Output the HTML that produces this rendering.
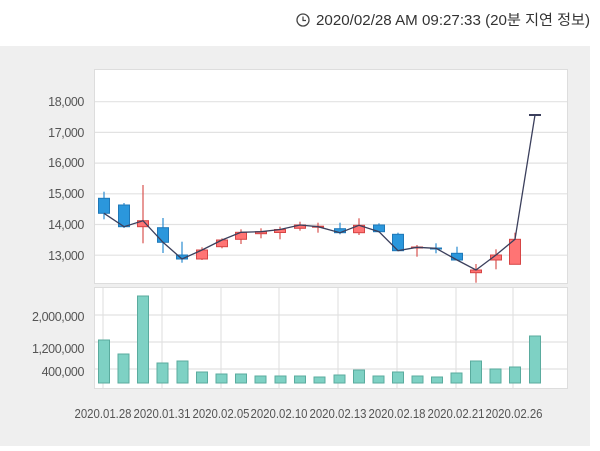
<!DOCTYPE html>
<html><head><meta charset="utf-8"><style>
body{margin:0;width:600px;height:446px;background:#fff;overflow:hidden;font-family:"Liberation Sans","Noto Sans CJK KR",sans-serif;}
</style></head><body>
<svg width="600" height="446" xmlns="http://www.w3.org/2000/svg" font-family="Liberation Sans, Noto Sans CJK KR, sans-serif">
<circle cx="303" cy="20" r="6" fill="none" stroke="#444" stroke-width="1.3"/>
<path d="M303 16.5V20.5H306" fill="none" stroke="#444" stroke-width="1.2"/>
<text x="316" y="25" font-size="14.5" fill="#333" textLength="274" lengthAdjust="spacingAndGlyphs">2020/02/28 AM 09:27:33 (20분 지연 정보)</text>
<rect x="0" y="46" width="590" height="400" fill="#efefef"/>
<rect x="94.5" y="69.5" width="473" height="214" fill="#fff" stroke="#ddd"/>
<rect x="94.5" y="287.5" width="473" height="101" fill="#fff" stroke="#ddd"/>
<g stroke="#e2e2e2" stroke-width="1.2">
<line x1="95" x2="567" y1="101.7" y2="101.7"/><line x1="95" x2="567" y1="132.4" y2="132.4"/>
<line x1="95" x2="567" y1="163.1" y2="163.1"/><line x1="95" x2="567" y1="193.8" y2="193.8"/>
<line x1="95" x2="567" y1="224.5" y2="224.5"/><line x1="95" x2="567" y1="255.2" y2="255.2"/>
<line x1="95" x2="567" y1="315" y2="315"/><line x1="95" x2="567" y1="342" y2="342"/><line x1="95" x2="567" y1="369" y2="369"/>
<line x1="103" x2="103" y1="288" y2="388"/><line x1="162" x2="162" y1="288" y2="388"/><line x1="221" x2="221" y1="288" y2="388"/><line x1="279" x2="279" y1="288" y2="388"/><line x1="338" x2="338" y1="288" y2="388"/><line x1="397" x2="397" y1="288" y2="388"/><line x1="456" x2="456" y1="288" y2="388"/><line x1="513" x2="513" y1="288" y2="388"/>
</g>
<g font-size="12.5" fill="#555" text-anchor="end" letter-spacing="-0.4">
<text x="84" y="106">18,000</text><text x="84" y="137">17,000</text><text x="84" y="167">16,000</text>
<text x="84" y="198">15,000</text><text x="84" y="229">14,000</text><text x="84" y="260">13,000</text>
<text x="84" y="321">2,000,000</text><text x="84" y="353">1,200,000</text><text x="84" y="376">400,000</text>
</g>
<g font-size="12.5" fill="#555" text-anchor="middle">
<text x="103" y="418" textLength="57" lengthAdjust="spacingAndGlyphs">2020.01.28</text><text x="162" y="418" textLength="57" lengthAdjust="spacingAndGlyphs">2020.01.31</text><text x="221" y="418" textLength="57" lengthAdjust="spacingAndGlyphs">2020.02.05</text><text x="279" y="418" textLength="57" lengthAdjust="spacingAndGlyphs">2020.02.10</text><text x="338" y="418" textLength="57" lengthAdjust="spacingAndGlyphs">2020.02.13</text><text x="397" y="418" textLength="57" lengthAdjust="spacingAndGlyphs">2020.02.18</text><text x="456" y="418" textLength="57" lengthAdjust="spacingAndGlyphs">2020.02.21</text><text x="514" y="418" textLength="57" lengthAdjust="spacingAndGlyphs">2020.02.26</text>
</g>
<g fill="#7ed1c4" stroke="#5aab9e" stroke-width="1">
<rect x="98.5" y="340" width="11" height="43"/><rect x="118" y="354" width="11" height="29"/><rect x="137.5" y="296" width="11" height="87"/><rect x="157" y="363" width="11" height="20"/><rect x="177" y="361" width="11" height="22"/><rect x="196.5" y="372" width="11" height="11"/><rect x="216" y="374" width="11" height="9"/><rect x="235.5" y="374" width="11" height="9"/><rect x="255" y="376" width="11" height="7"/><rect x="275" y="376" width="11" height="7"/><rect x="294.5" y="376" width="11" height="7"/><rect x="314" y="377" width="11" height="6"/><rect x="334" y="375" width="11" height="8"/><rect x="353.5" y="370" width="11" height="13"/><rect x="373" y="376" width="11" height="7"/><rect x="392.5" y="372" width="11" height="11"/><rect x="412" y="376" width="11" height="7"/><rect x="431.5" y="377" width="11" height="6"/><rect x="451" y="373" width="11" height="10"/><rect x="470.5" y="361" width="11" height="22"/><rect x="490" y="369" width="11" height="14"/><rect x="509.5" y="367" width="11" height="16"/><rect x="529.5" y="336" width="11" height="47"/>
</g>
<g stroke-width="1.2">
<g stroke="#2a8bd0">
<line x1="104" x2="104" y1="191.7" y2="219.3"/><line x1="124" x2="124" y1="203" y2="228"/><line x1="163" x2="163" y1="218" y2="253"/><line x1="182" x2="182" y1="241.7" y2="262.7"/><line x1="340" x2="340" y1="222.7" y2="234.3"/><line x1="379" x2="379" y1="223.3" y2="232.3"/><line x1="398" x2="398" y1="232.7" y2="250.7"/><line x1="436" x2="436" y1="243.3" y2="253.3"/><line x1="457" x2="457" y1="246.7" y2="260"/>
</g>
<g stroke="#d9534f">
<line x1="143" x2="143" y1="185" y2="243.3"/><line x1="202" x2="202" y1="247.3" y2="260"/><line x1="222" x2="222" y1="238.3" y2="248.3"/><line x1="241" x2="241" y1="229.3" y2="244"/><line x1="261" x2="261" y1="228.3" y2="238.3"/><line x1="280" x2="280" y1="226.7" y2="239.3"/><line x1="300" x2="300" y1="221.7" y2="230.7"/><line x1="318" x2="318" y1="222.7" y2="232.7"/><line x1="359" x2="359" y1="218.3" y2="235"/><line x1="417" x2="417" y1="245" y2="256.7"/><line x1="476" x2="476" y1="264" y2="282.7"/><line x1="496" x2="496" y1="249.3" y2="269.3"/><line x1="515" x2="515" y1="232.7" y2="264.3"/>
</g>
</g>
<g fill="#2b97dc" stroke="#1f78b8" stroke-width="1">
<rect x="98.5" y="198.3" width="11" height="15"/><rect x="118.5" y="205" width="11" height="21.7"/><rect x="157.5" y="227.7" width="11" height="14.6"/><rect x="176.5" y="255" width="11" height="4"/><rect x="334.5" y="228.7" width="11" height="4"/><rect x="373.5" y="225" width="11" height="6.7"/><rect x="392.5" y="234.3" width="11" height="16.4"/><rect x="430.5" y="248" width="11" height="1"/><rect x="451.5" y="253.3" width="11" height="6.7"/>
</g>
<g fill="#ff7474" stroke="#d64545" stroke-width="1">
<rect x="137.5" y="220.7" width="11" height="6"/><rect x="196.5" y="250" width="11" height="9"/><rect x="216.5" y="240" width="11" height="6.7"/><rect x="235.5" y="232.3" width="11" height="7"/><rect x="255.5" y="231.7" width="11" height="2"/><rect x="274.5" y="229.5" width="11" height="3"/><rect x="294.5" y="225" width="11" height="3.3"/><rect x="312.5" y="226.2" width="11" height="1"/><rect x="353.5" y="225.3" width="11" height="7.4"/><rect x="411.5" y="247" width="11" height="1"/><rect x="470.5" y="270" width="11" height="2.7"/><rect x="490.5" y="255" width="11" height="5"/><rect x="509.5" y="239.3" width="11" height="25"/>
</g>
<line x1="529" x2="541" y1="115" y2="115" stroke="#3b3f5c" stroke-width="2"/>
<polyline fill="none" stroke="#3b3f5c" stroke-width="1.3" points="104,213.3 124,226.7 143,220.7 163,242.3 182,259 202,250 222,240 241,232.3 261,231.7 280,229.5 300,225 318,226.7 340,232.7 359,225.3 379,231.7 398,250.7 417,247.3 436,248.3 457,260 476,270 496,255 515,239.3 535,115"/>
</svg>
</body></html>
